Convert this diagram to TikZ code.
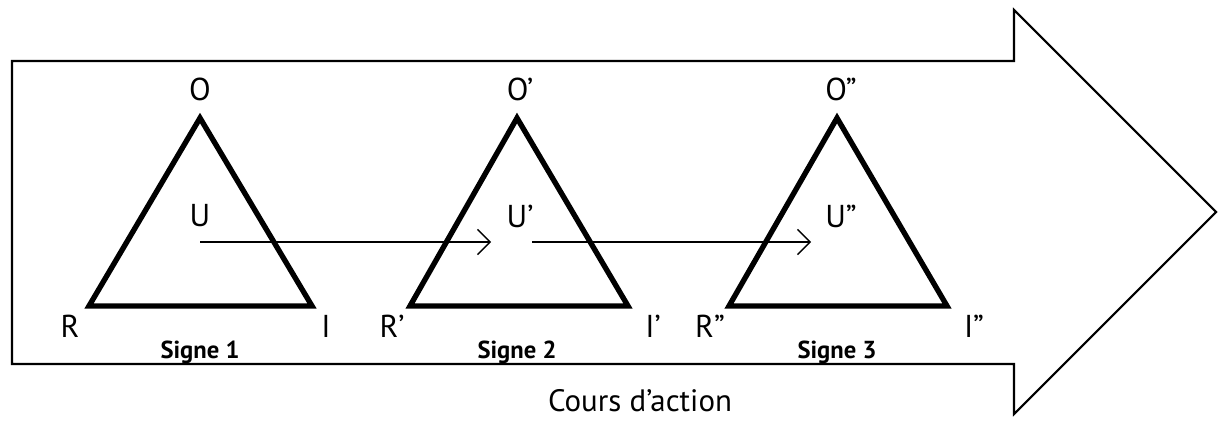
\documentclass[tikz,border=0pt]{standalone}
\usepackage{fontspec}
\setmainfont{PT Sans}
\usepackage{tikz}
\usetikzlibrary{positioning, arrows.meta}
\definecolor{sInk}{HTML}{000000}

\begin{document}
\begin{tikzpicture}[x=0.025cm, y=-0.025cm, >={Straight Barb[length=9pt, width=18pt]},
        vlabel/.style={font=\fontsize{22.5}{26}\selectfont, inner sep=0pt},
        slabel/.style={font=\fontsize{17.5}{20}\selectfont\bfseries, inner sep=0pt},
        tri/.style={line width=3.8pt, draw=sInk, line join=miter},
        usign/.style={->, line width=0.9pt, sInk}]
      \useasboundingbox (0,0) rectangle (1220,431);
      % big arrow: course of action
      \draw[line width=1.5pt, sInk, line join=miter]
        (12,61) -- (1014,61) -- (1014,10) -- (1216,212) -- (1014,414) -- (1014,364) -- (12,364) -- cycle;
      \node[font=\fontsize{22}{26}\selectfont, inner sep=0pt] (cours) at (640,401) {Cours d’action};
      % sign 1
      \coordinate (o1) at (200,118);
      \coordinate (r1) at (89,306);
      \coordinate (i1) at (312,306);
      \draw[tri] (o1) -- (r1) -- (i1) -- cycle;
      \node[vlabel] (lo1) at (200,89) {O};
      \node[vlabel] (lr1) at (70,326) {R};
      \node[vlabel] (li1) at (326,326) {I};
      \node[vlabel] (lu1) at (200,216) {U};
      \node[slabel] (s1) at (200,352) {Signe 1};
      % sign 2
      \coordinate (o2) at (517,118);
      \coordinate (r2) at (410,306);
      \coordinate (i2) at (628,306);
      \draw[tri] (o2) -- (r2) -- (i2) -- cycle;
      \node[vlabel] (lo2) at (520,89) {O’};
      \node[vlabel] (lr2) at (392,326) {R’};
      \node[vlabel] (li2) at (653,326) {I’};
      \node[vlabel] (lu2) at (520,216) {U’};
      \node[slabel] (s2) at (517,352) {Signe 2};
      % sign 3
      \coordinate (o3) at (837,118);
      \coordinate (r3) at (729,306);
      \coordinate (i3) at (947,306);
      \draw[tri] (o3) -- (r3) -- (i3) -- cycle;
      \node[vlabel] (lo3) at (841,89) {O”};
      \node[vlabel] (lr3) at (710,326) {R”};
      \node[vlabel] (li3) at (974,326) {I”};
      \node[vlabel] (lu3) at (841,216) {U”};
      \node[slabel] (s3) at (837,352) {Signe 3};
      % interpretant chain
      \coordinate (u1) at (200,242);
      \coordinate (u2a) at (491,242);
      \coordinate (u2) at (532,242);
      \coordinate (u3a) at (811,242);
      \draw[usign] (u1) -- (u2a);
      \draw[usign] (u2) -- (u3a);
    \end{tikzpicture}
\end{document}
